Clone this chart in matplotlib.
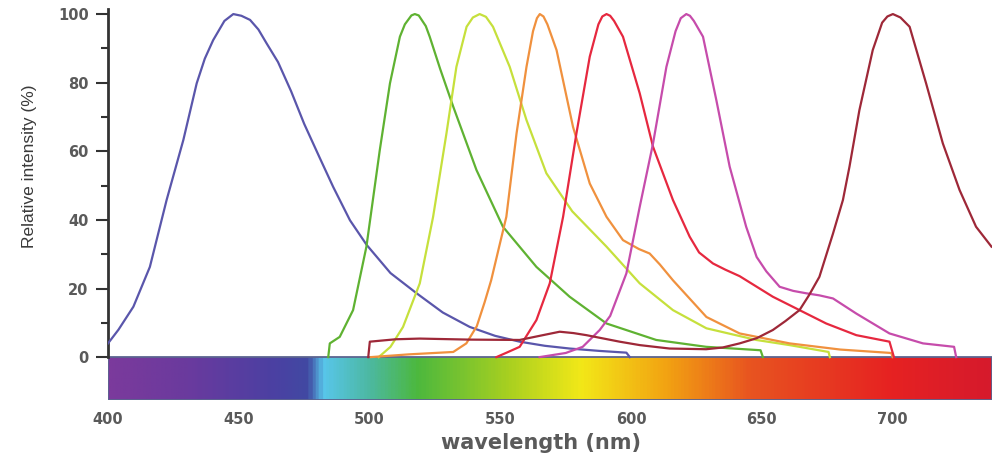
import numpy as np
import matplotlib
matplotlib.use("Agg")
import matplotlib.pyplot as plt
from matplotlib.colors import LinearSegmentedColormap
from matplotlib.patches import Rectangle

# emission spectra: wavelength (nm) / relative intensity (%)
blue_wl = [400.0, 404, 409.7, 416, 422.4, 428.8, 433.9, 437, 440.2, 444.5, 447.9, 451, 454.3,
           457.5, 460.6, 465, 470, 475, 481, 486.1, 492.5, 498.9, 508, 518, 528, 538.3, 548,
           557.4, 567, 576.5, 588, 598.2, 599.5]
blue_int = [4.0, 8, 14.7, 26.3, 45.8, 63.3, 79.8, 87, 92.4, 98, 100, 99.5, 98.3,
            95.5, 91.5, 86, 77.5, 68, 58, 49.6, 39.9, 32.7, 24.5, 18.6, 13, 8.8, 6.2,
            4.5, 3.3, 2.5, 1.8, 1.3, 0]

green_wl = [484.2, 484.8, 488.6, 493.7, 498.8, 503.9, 507.8, 511.6, 513.5, 516, 517.3, 518.8,
            521.5, 523, 527, 532, 540.9, 551, 563.8, 576.5, 590.6, 609.6, 628.7, 649.5, 650.4]
green_int = [0, 4.0, 5.9, 13.7, 32.2, 60.3, 79.8, 93.4, 97, 99.6, 100, 99.6,
             96.5, 93.4, 84, 73, 54.5, 38, 26.3, 17.6, 9.8, 5.0, 3.0, 2.0, 0]

lime_wl = [503.5, 508, 512.8, 519.2, 524.3, 529.4, 533.2, 537.1, 539.5, 542.1, 544.5, 547.2,
           553.6, 560, 567.6, 577.5, 590.6, 603.3, 616, 628.8, 647.9, 660.6, 675.5, 676]
lime_int = [0, 3, 8.8, 21.5, 40.9, 65.2, 84.6, 96.3, 99, 100, 99.2, 96.3,
            84.6, 69.1, 53.6, 42.5, 32.2, 21.5, 13.7, 8.4, 5.0, 3.5, 1.5, 0]

orange_wl = [500.5, 515, 532, 537, 541, 544, 546.5, 549.5, 552.3, 556.2, 560, 562.5, 564,
             565.1, 566.5, 568, 571.5, 577.8, 584.2, 590.6, 596.9, 603, 607.1, 611, 616,
             628.8, 641.5, 660.6, 680, 699.5, 700]
orange_int = [0, 0.8, 1.5, 4, 9, 16, 22.4, 32, 40.9, 65.2, 84.6, 95, 98.8,
              100, 99.3, 97, 89.5, 67.1, 50.6, 40.9, 34.1, 31.5, 30.2, 27, 22.4,
              11.7, 6.9, 4.0, 2.2, 1.2, 0]

red_wl = [548.5, 553, 557.4, 563.8, 568.9, 574, 579.1, 584.2, 587.5, 589, 590.6, 592, 593.5,
          596.9, 603.3, 608.4, 616, 622.4, 626, 631.3, 636, 641.5, 654.2, 664.4, 674.6,
          686.1, 698.8, 700.5]
red_int = [0, 1.5, 3, 10.8, 21.5, 40.9, 65.2, 87.6, 97, 99.3, 100, 99.5, 98,
           93.4, 76.9, 61.3, 45.8, 35.1, 30.5, 27.3, 25.5, 23.6, 17.6, 13.7, 9.8,
           6.4, 4.5, 0]

magenta_wl = [565, 575, 581.5, 588, 592, 595, 598.2, 603.3, 608.4, 613.5, 617, 619, 621.1,
              622.5, 624, 627.5, 632.6, 637.7, 644, 648, 651.7, 656.8, 662, 667, 672, 677.2,
              686.1, 698.8, 711.6, 723.5, 724.3]
magenta_int = [0, 1.2, 3, 7.9, 12, 18, 24.4, 43.8, 62.3, 84.6, 95, 98.8, 100,
               99.5, 98, 93.4, 74.9, 55.5, 38, 29.2, 25, 20.5, 19.3, 18.6, 18.0, 17.1,
               12.7, 6.9, 4.0, 3.0, 0]

maroon_wl = [499.5, 500.1, 510, 519.2, 538.3, 557.4, 565, 572.7, 578, 582.9, 595.6, 603.3,
             614.7, 628.7, 635, 641.5, 648, 654.2, 659, 664.4, 668, 672, 677.2, 681, 683.5,
             687.3, 692.4, 696, 698, 700.1, 703, 706.5, 712.8, 719.2, 725.6, 731.9, 737.8]
maroon_int = [0, 4.5, 5.2, 5.4, 5.1, 5.0, 6.2, 7.4, 7.0, 6.4, 4.5, 3.5,
              2.5, 2.3, 2.8, 4.0, 5.5, 7.9, 10.5, 13.7, 18, 23.4, 36, 45.8, 55.5,
              72, 89.5, 97.5, 99.3, 100, 99, 96.3, 79.8, 62.3, 48.7, 38, 32.2]

series = [
    (blue_wl, blue_int, "#5a56ab"),
    (green_wl, green_int, "#5fb232"),
    (lime_wl, lime_int, "#c6e03c"),
    (orange_wl, orange_int, "#f0913e"),
    (red_wl, red_int, "#e6283f"),
    (magenta_wl, magenta_int, "#c64cab"),
    (maroon_wl, maroon_int, "#9e2838"),
]

x_ticks = [400, 450, 500, 550, 600, 650, 700]
y_ticks = [0, 20, 40, 60, 80, 100]

# spectrum bar colours (wavelength, colour)
spec_stops = [(400, "#7b3a9c"), (430, "#6a3a9e"), (462, "#4c40a2"), (476, "#4149a2"),
              (482, "#58c6ea"), (500, "#4cb8a0"), (518, "#4cb83e"), (553, "#a8d020"),
              (581, "#f2e818"), (614, "#f2a212"), (646, "#e85420"), (700, "#e62222"),
              (738, "#d61a2c")]

xmin, xmax = 400, 738
bar_h = 12.5

fig = plt.figure(figsize=(9.92, 4.55), dpi=100)
ax = fig.add_axes([0.1089, 0.1209, 0.8911, 0.8595])
ax.set_xlim(xmin, xmax)
ax.set_ylim(-bar_h, 101.5)

# spectrum bar
pos = [(w - xmin) / (xmax - xmin) for w, _ in spec_stops]
cmap = LinearSegmentedColormap.from_list("spec", list(zip(pos, [c for _, c in spec_stops])))
grad = np.linspace(0, 1, 600).reshape(1, -1)
ax.imshow(grad, cmap=cmap, aspect="auto", extent=(xmin, xmax, -bar_h, 0), zorder=1)
ax.add_patch(Rectangle((xmin, -bar_h), xmax - xmin, bar_h, fill=False,
                       edgecolor="#5c6490", lw=1.3, zorder=2))

for wl, inten, col in series:
    ax.plot(wl, inten, color=col, lw=1.6, zorder=3, solid_joinstyle="round")

for s in ["top", "right", "bottom"]:
    ax.spines[s].set_visible(False)
ax.spines["left"].set_bounds(0, 101.5)
ax.spines["left"].set_linewidth(2)
ax.spines["left"].set_color("#333333")

ax.set_yticks(y_ticks)
ax.set_yticks(range(10, 100, 20), minor=True)
ax.tick_params(axis="y", which="major", length=9, width=1.5, color="#333333", pad=5,
               labelsize=10.5, labelcolor="#5a5a5a")
ax.tick_params(axis="y", which="minor", length=5, width=1.5, color="#333333")
for lab in ax.get_yticklabels():
    lab.set_fontweight("bold")

ax.set_xticks(x_ticks)
ax.tick_params(axis="x", length=0, pad=9, labelsize=10.5, labelcolor="#5a5a5a")
for lab in ax.get_xticklabels():
    lab.set_fontweight("bold")

fig.text(0.545, 0.005, "wavelength (nm)", ha="center", va="bottom", fontsize=15,
         fontweight="bold", color="#5a5a5a")
fig.text(0.03, 0.635, "Relative intensity (%)", rotation=90, ha="center", va="center",
         fontsize=12.5, family=["Liberation Sans", "DejaVu Sans"], color="#3a3a3a")

fig.savefig("out.png", dpi=100)
